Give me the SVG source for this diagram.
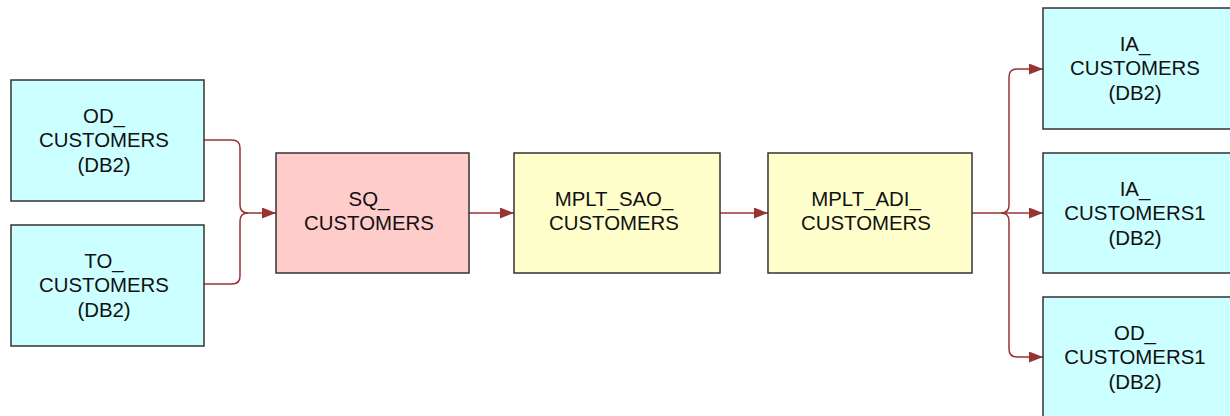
<svg xmlns="http://www.w3.org/2000/svg" width="1230" height="416" viewBox="0 0 1230 416">
<style>
.box{stroke:#333;stroke-width:1.5}
.src{fill:#ccffff}
.sq{fill:#ffcccc}
.mp{fill:#ffffcc}
text{font-family:"Liberation Sans",Arial,sans-serif;font-size:20.4px;fill:#111;text-anchor:middle}
.c{fill:none;stroke:#993333;stroke-width:1.5}
</style>
<defs>
<marker id="a" markerWidth="14" markerHeight="11" refX="14" refY="5.5" orient="auto" markerUnits="userSpaceOnUse">
<path d="M0,0 L14,5.5 L0,11 Z" fill="#993333"/>
</marker>
</defs>
<rect width="1230" height="416" fill="#fff"/>
<g id="connectors">
<path class="c" d="M204,140 H232 Q240,140 240,148 V205 Q240,213 248,213"/>
<path class="c" d="M204,284 H232 Q240,284 240,276 V221 Q240,213 248,213 H276" marker-end="url(#a)"/>
<path class="c" d="M469,213 H514" marker-end="url(#a)"/>
<path class="c" d="M720,213 H768" marker-end="url(#a)"/>
<path class="c" d="M972,213 H1001 Q1009,213 1009,205 V77 Q1009,69 1017,69 H1043" marker-end="url(#a)"/>
<path class="c" d="M1001,213 H1043" marker-end="url(#a)"/>
<path class="c" d="M1001,213 Q1009,213 1009,221 V349 Q1009,357 1017,357 H1043" marker-end="url(#a)"/>
</g>
<g id="od_customers">
<rect class="box src" x="11" y="80" width="193" height="121"/>
<text x="104" y="123">OD_</text>
<text x="104" y="147">CUSTOMERS</text>
<text x="104" y="172">(DB2)</text>
</g>
<g id="to_customers">
<rect class="box src" x="11" y="225" width="193" height="121"/>
<text x="104" y="268">TO_</text>
<text x="104" y="292">CUSTOMERS</text>
<text x="104" y="317">(DB2)</text>
</g>
<g id="sq_customers">
<rect class="box sq" x="276" y="153" width="193" height="120"/>
<text x="369" y="206">SQ_</text>
<text x="369" y="230">CUSTOMERS</text>
</g>
<g id="mplt_sao_customers">
<rect class="box mp" x="514" y="153" width="206" height="120"/>
<text x="614" y="206">MPLT_SAO_</text>
<text x="614" y="230">CUSTOMERS</text>
</g>
<g id="mplt_adi_customers">
<rect class="box mp" x="768" y="153" width="204" height="120"/>
<text x="866" y="206">MPLT_ADI_</text>
<text x="866" y="230">CUSTOMERS</text>
</g>
<g id="ia_customers">
<rect class="box src" x="1043" y="8" width="193" height="121"/>
<text x="1135" y="51">IA_</text>
<text x="1135" y="75">CUSTOMERS</text>
<text x="1135" y="100">(DB2)</text>
</g>
<g id="ia_customers1">
<rect class="box src" x="1043" y="153" width="193" height="120"/>
<text x="1135" y="196">IA_</text>
<text x="1135" y="220">CUSTOMERS1</text>
<text x="1135" y="245">(DB2)</text>
</g>
<g id="od_customers1">
<rect class="box src" x="1043" y="297" width="193" height="125"/>
<text x="1135" y="340">OD_</text>
<text x="1135" y="364">CUSTOMERS1</text>
<text x="1135" y="389">(DB2)</text>
</g>
</svg>
